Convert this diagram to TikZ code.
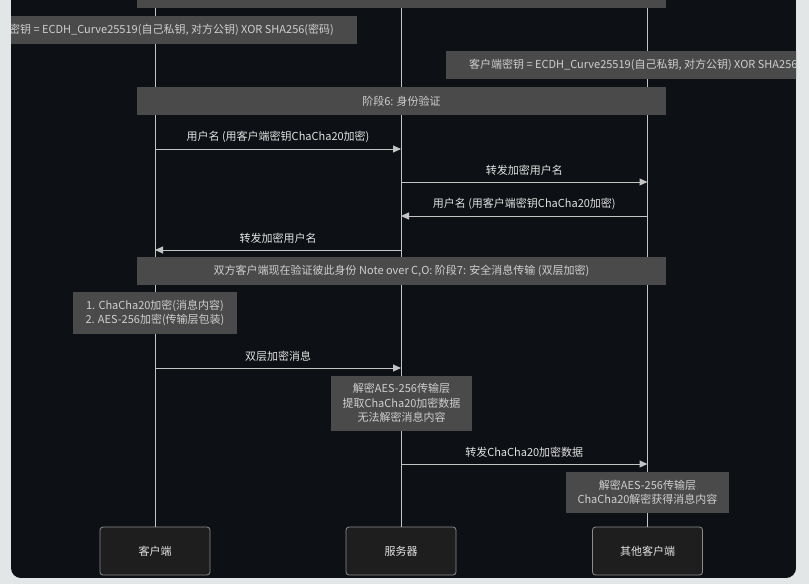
\documentclass[tikz,border=0pt]{standalone}
\usepackage{fontspec}
\setmainfont{Noto Sans CJK SC}
\usetikzlibrary{arrows.meta}
\definecolor{outerbg}{HTML}{E3E6E6}
\definecolor{panelbg}{HTML}{0D1014}
\definecolor{notefill}{HTML}{4A4A4A}
\definecolor{notetext}{HTML}{CFCFCF}
\definecolor{linecol}{HTML}{C4C4C4}
\definecolor{boxfill}{HTML}{1E1E1E}
\definecolor{boxdraw}{HTML}{8C8C8C}
\definecolor{labeltext}{HTML}{E2E2E2}
\tikzset{
  txt/.style={font=\fontsize{11}{14.5}\selectfont},
  notebox/.style={txt, fill=notefill, text=notetext, inner sep=0pt, align=center},
  actorbox/.style={txt, fill=boxfill, draw=boxdraw, line width=0.8pt, rounded corners=3pt, text=labeltext, minimum width=110pt, minimum height=48pt, inner sep=0pt},
  lifeline/.style={draw=linecol, line width=1pt},
  msg/.style={draw=linecol, line width=1pt, -{Triangle[length=8pt,width=7pt]}},
  msglabel/.style={txt, text=labeltext, inner sep=0pt},
}
\begin{document}
\begin{tikzpicture}[x=1pt,y=-1pt]
\useasboundingbox (0,0) rectangle (809,584);
\fill[outerbg] (0,0) rectangle (809,584);
\begin{scope}
\clip[rounded corners=10pt] (11,-20) rectangle (796,578);
\fill[panelbg] (11,-20) rectangle (796,578);
% actors
\node[actorbox] (C) at (155,551) {客户端};
\node[actorbox] (S) at (401,551) {服务器};
\node[actorbox] (O) at (647.5,551) {其他客户端};
% lifeline tops
\coordinate (Ct) at (155,-20);
\coordinate (St) at (401,-20);
\coordinate (Ot) at (647.5,-20);
\draw[lifeline] (Ct) -- (C.north);
\draw[lifeline] (St) -- (S.north);
\draw[lifeline] (Ot) -- (O.north);
% notes
\node[notebox, minimum width=529pt, minimum height=28pt] (top) at (401.5,-6) {};
\node[notebox, minimum width=404pt, minimum height=28pt] (n1) at (155,30) {客户端密钥 = ECDH\_Curve25519(自己私钥, 对方公钥) XOR SHA256(密码)};
\node[notebox, minimum width=404pt, minimum height=28pt] (n2) at (648,65) {客户端密钥 = ECDH\_Curve25519(自己私钥, 对方公钥) XOR SHA256(密码)};
\node[notebox, minimum width=529pt, minimum height=28pt] (s6) at (401.5,101) {阶段6: 身份验证};
\node[notebox, minimum width=529pt, minimum height=28pt] (s7) at (401.5,271) {双方客户端现在验证彼此身份 Note over C,O: 阶段7: 安全消息传输 (双层加密)};
\node[notebox, minimum width=164pt, minimum height=42pt, font=\fontsize{11}{14}\selectfont] (nl) at (155,313) {1. ChaCha20加密(消息内容)\\2. AES-256加密(传输层包装)};
\node[notebox, minimum width=141pt, minimum height=55pt] (ns) at (401.5,403) {解密AES-256传输层\\提取ChaCha20加密数据\\无法解密消息内容};
\node[notebox, minimum width=163pt, minimum height=41pt] (no) at (647.5,492.5) {解密AES-256传输层\\ChaCha20解密获得消息内容};
% message points
\coordinate (c1) at (155,149); \coordinate (s1) at (401,149);
\coordinate (s2) at (401,182); \coordinate (o2) at (647.5,182);
\coordinate (o3) at (647.5,216); \coordinate (s3) at (401,216);
\coordinate (s4) at (401,250); \coordinate (c4) at (155,250);
\coordinate (c5) at (155,368); \coordinate (s5) at (401,368);
\coordinate (s6p) at (401,464); \coordinate (o6) at (647.5,464);
\draw[msg] (c1) -- node[msglabel, above=6pt] {用户名 (用客户端密钥ChaCha20加密)} (s1);
\draw[msg] (s2) -- node[msglabel, above=6pt] {转发加密用户名} (o2);
\draw[msg] (o3) -- node[msglabel, above=6pt] {用户名 (用客户端密钥ChaCha20加密)} (s3);
\draw[msg] (s4) -- node[msglabel, above=6pt] {转发加密用户名} (c4);
\draw[msg] (c5) -- node[msglabel, above=6pt] {双层加密消息} (s5);
\draw[msg] (s6p) -- node[msglabel, above=6pt] {转发ChaCha20加密数据} (o6);
\end{scope}
\end{tikzpicture}
\end{document}
